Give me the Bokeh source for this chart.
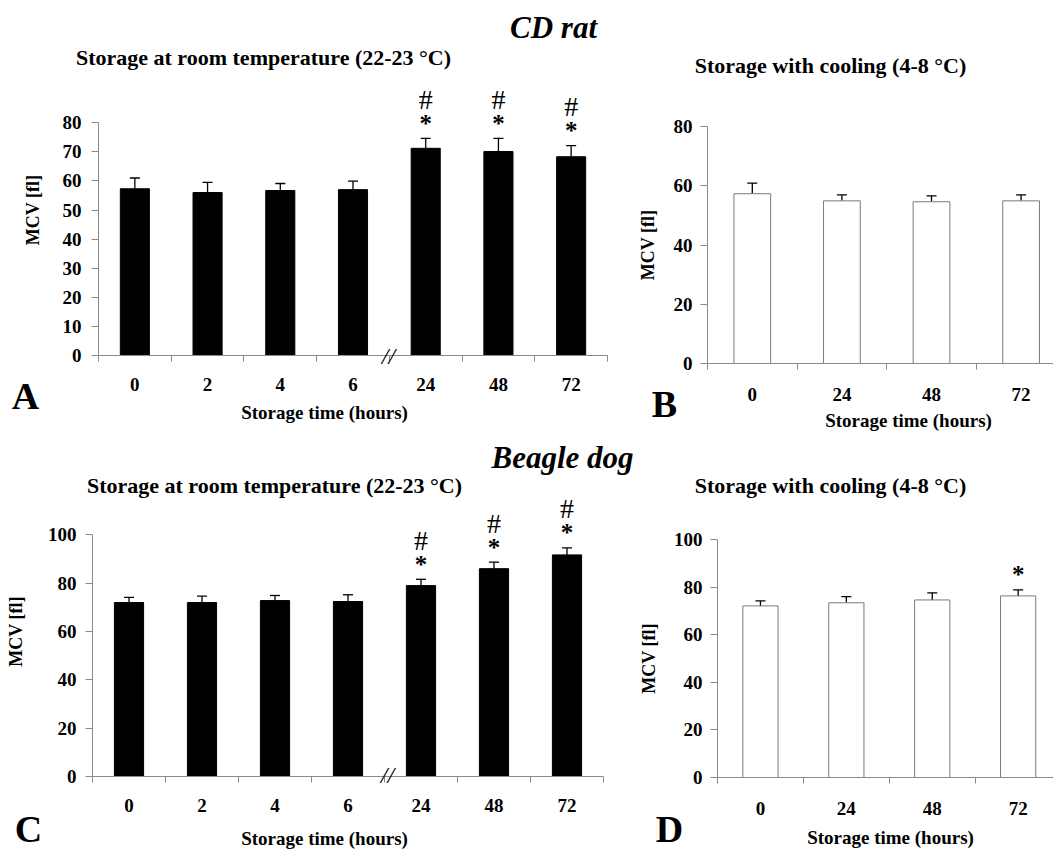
from bokeh.plotting import figure
from bokeh.models import (Range1d, FixedTicker, Label, ColumnDataSource, Whisker,
                          TeeHead, InlineStyleSheet)
from bokeh.embed import file_html
from bokeh.resources import INLINE
from bokeh.core.properties import value

# ---------------- data ----------------
rt_times = ["0", "2", "4", "6", "24", "48", "72"]
cool_times = ["0", "24", "48", "72"]

rat_rt_mean = [57.3, 56.0, 56.7, 57.0, 71.2, 70.1, 68.3]
rat_rt_sd = [3.7, 3.5, 2.4, 2.9, 3.4, 4.5, 3.8]
rat_rt_star = ["", "", "", "", "*", "*", "*"]
rat_rt_hash = ["", "", "", "", "#", "#", "#"]

rat_cool_mean = [57.3, 54.9, 54.6, 54.9]
rat_cool_sd = [3.6, 2.0, 2.0, 2.0]

dog_rt_mean = [72.0, 72.0, 72.8, 72.4, 79.0, 86.0, 91.7]
dog_rt_sd = [2.1, 2.6, 2.1, 2.8, 2.6, 2.7, 2.9]
dog_rt_star = ["", "", "", "", "*", "*", "*"]
dog_rt_hash = ["", "", "", "", "#", "#", "#"]

dog_cool_mean = [72.1, 73.4, 74.6, 76.3]
dog_cool_sd = [2.1, 2.6, 3.0, 2.5]
dog_cool_star = ["", "", "", "*"]

SERIF = "Liberation Serif"
AXIS_GREY = "#8a8a8a"


def place(p, left, top, z=1):
    css = (":host { position: absolute !important; left: %dpx !important; "
           "top: %dpx !important; z-index: %d; }" % (left, top, z))
    p.stylesheets = [InlineStyleSheet(css=css)]


def make_panel(left, top, w, h, L, R, T, B, cats, means, sds, ymax, ybound, ystep,
               xend, filled, label_std, axis_label_std, xlabel_std,
               stars=None, hashes=None):
    n = len(cats)
    p = figure(width=w, height=h, output_backend="svg", toolbar_location=None,
               x_range=Range1d(0, xend), y_range=Range1d(0, ymax),
               min_border_left=L, min_border_right=R, min_border_top=T,
               min_border_bottom=B, tools="")
    place(p, left, top)
    p.outline_line_color = None
    p.xgrid.visible = False
    p.ygrid.visible = False
    p.background_fill_color = "white"
    p.border_fill_color = "white"

    xs = [i + 0.5 for i in range(n)]
    tops = [m + s for m, s in zip(means, sds)]
    src = ColumnDataSource(dict(x=xs, top=means, upper=tops))
    if filled:
        p.vbar(x="x", top="top", bottom=0, width=0.40, source=src,
               fill_color="black", line_color="black", line_width=1)
    else:
        p.vbar(x="x", top="top", bottom=0, width=0.41, source=src,
               fill_color="white", line_color="#7a7a7a", line_width=1)
    wh = Whisker(source=src, base="x", lower="top", upper="upper",
                 dimension="height", line_color="black", line_width=1.3,
                 upper_head=TeeHead(size=10, line_color="black", line_width=1.3),
                 lower_head=None)
    p.add_layout(wh)

    if stars is not None:
        ssrc = ColumnDataSource(dict(x=xs, y=tops, t=stars))
        p.text(x="x", y="y", text="t", source=ssrc, text_align="center",
               text_baseline="middle", y_offset=-15,
               text_font=value(SERIF), text_font_size="25px",
               text_font_style="bold", text_color="black")
    if hashes is not None:
        hsrc = ColumnDataSource(dict(x=xs, y=tops, t=hashes))
        p.text(x="x", y="y", text="t", source=hsrc, text_align="center",
               text_baseline="middle", y_offset=-39,
               text_font=value(SERIF), text_font_size="28px",
               text_font_style="normal", text_color="black")

    # x axis
    xa = p.xaxis[0]
    xa.ticker = FixedTicker(ticks=xs, minor_ticks=list(range(n + 1)))
    xa.major_label_overrides = {x: c for x, c in zip(xs, cats)}
    xa.major_tick_in = 0
    xa.major_tick_out = 0
    xa.minor_tick_in = 0
    xa.minor_tick_out = 6
    xa.minor_tick_line_color = AXIS_GREY
    xa.axis_line_color = AXIS_GREY
    xa.major_label_text_font = SERIF
    xa.major_label_text_font_style = "bold"
    xa.major_label_text_font_size = "19px"
    xa.major_label_text_color = "black"
    xa.major_label_standoff = xlabel_std

    # y axis
    ya = p.yaxis[0]
    ya.ticker = FixedTicker(ticks=list(range(0, ybound + 1, ystep)))
    ya.bounds = (0, ybound)
    ya.minor_tick_line_color = None
    ya.major_tick_in = 0
    ya.major_tick_out = 7
    ya.major_tick_line_color = AXIS_GREY
    ya.axis_line_color = AXIS_GREY
    ya.major_label_text_font = SERIF
    ya.major_label_text_font_style = "bold"
    ya.major_label_text_font_size = "19px"
    ya.major_label_text_color = "black"
    ya.major_label_standoff = label_std
    ya.axis_label = "MCV [fl]"
    ya.axis_label_text_font = SERIF
    ya.axis_label_text_font_style = "bold"
    ya.axis_label_text_font_size = "18px"
    ya.axis_label_text_color = "black"
    ya.axis_label_standoff = axis_label_std
    return p


# Panel A: CD rat, room temperature
pA = make_panel(0, 0, 610, 400, 98, 3, 64, 45, rt_times, rat_rt_mean, rat_rt_sd,
                100, 80, 10, 7, True, 10, 17, 16,
                stars=rat_rt_star, hashes=rat_rt_hash)
# Panel B: CD rat, cooling
pB = make_panel(610, 0, 443, 410, 97, 0, 126, 47, cool_times, rat_cool_mean, rat_cool_sd,
                80, 80, 20, 346 / 89.6, False, 8, 13, 18)
# Panel C: Beagle dog, room temperature
pC = make_panel(0, 440, 610, 395, 92, 7, 46, 59, rt_times, dog_rt_mean, dog_rt_sd,
                120, 100, 20, 7, True, 9, 19, 16,
                stars=dog_rt_star, hashes=dog_rt_hash)
# Panel D: Beagle dog, cooling
pD = make_panel(610, 440, 443, 395, 107, 0, 99, 58, cool_times, dog_cool_mean, dog_cool_sd,
                100, 100, 20, 336 / 85.9, False, 8, 12, 18,
                stars=dog_cool_star)

# Text overlay (titles, panel letters, axis titles, axis-break marks)
ov = figure(width=1053, height=850, output_backend="svg", toolbar_location=None,
            x_range=Range1d(0, 1053), y_range=Range1d(850, 0),
            x_axis_type=None, y_axis_type=None, tools="", min_border=0)
place(ov, 0, 0, 10)
ov.outline_line_color = None
ov.background_fill_color = None
ov.border_fill_color = None
ov.xgrid.visible = False
ov.ygrid.visible = False


def txt(text, x, y, size, style="bold"):
    ov.add_layout(Label(x=x, y=y, text=text, text_align="center",
                        text_baseline="middle", text_font=SERIF,
                        text_font_size=f"{size}px", text_font_style=style,
                        text_color="black"))


title_rt = "Storage at room temperature (22-23 °C)"
title_cool = "Storage with cooling (4-8 °C)"
xlab = "Storage time (hours)"

txt("CD rat", 553, 27, 31, "bold italic")
txt(title_rt, 263, 57, 22)
txt(title_cool, 830, 65, 22)
txt("A", 25, 395, 38)
txt(xlab, 324, 412, 19)
txt("B", 664, 403, 38)
txt(xlab, 908, 420, 19)

txt("Beagle dog", 562, 457, 31, "bold italic")
txt(title_rt, 274, 485, 22)
txt(title_cool, 830, 485, 22)
txt("C", 28, 828, 38)
txt(xlab, 324, 838, 19)
txt("D", 669, 828, 38)
txt(xlab, 890, 837, 19)

txt("//", 388, 355, 24, "italic")
txt("//", 387, 774, 24, "italic")

html = file_html([pA, pB, pC, pD, ov], INLINE)
open("out.html", "w").write(html)
